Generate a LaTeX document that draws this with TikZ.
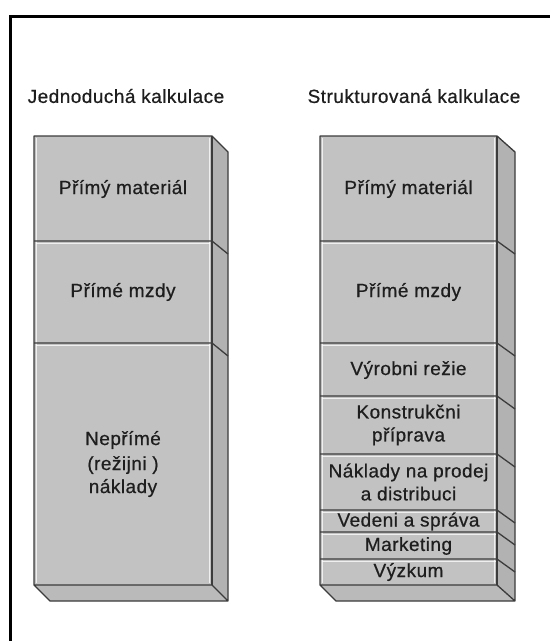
\documentclass[tikz,border=0pt]{standalone}
\usepackage{fontspec}
\setmainfont{Liberation Sans}
\newfontfamily\labelfont[LetterSpace=2.5,FakeBold=0.6]{Liberation Sans}
\definecolor{faceGray}{HTML}{C2C2C2}
\definecolor{sideGray}{HTML}{B2B2B2}
\definecolor{bottomGray}{HTML}{BABABA}
\definecolor{edgeGray}{HTML}{3C3C3C}
\definecolor{inkGray}{HTML}{1E1E1E}
\begin{document}
\begin{tikzpicture}[x=1pt,y=-1pt,
  edge/.style={draw=edgeGray, line width=1.3pt, line join=round},
  bevel/.style={draw=white, line width=1pt, opacity=0.75},
  lab/.style={font=\labelfont\fontsize{19}{23}\selectfont, align=center, text=inkGray, inner sep=0pt},
  title/.style={font=\labelfont\fontsize{19}{23}\selectfont, text=inkGray, inner sep=0pt}]
\useasboundingbox (0,0) rectangle (550,641);
\fill[white] (0,0) rectangle (550,641);
% open frame: top and left rules
\draw[line width=3pt] (10.5,641) -- (10.5,16) -- (550,16);

% column headings
\node[title] (tA) at (126,96) {Jednoduchá kalkulace};
\node[title] (tB) at (414,96) {Strukturovaná kalkulace};

% ---------- simple costing block ----------
\fill[sideGray] (212,136) -- (228,152) -- (228,601) -- (212,585) -- cycle;
\fill[bottomGray] (34,585) -- (212,585) -- (228,601) -- (50,601) -- cycle;
\fill[faceGray] (34,136) rectangle (212,585);
\draw[bevel] (36.5,138) -- (36.5,583);
\draw[bevel] (209.5,138) -- (209.5,583);
\foreach \y in {241,343} {
  \draw[bevel] (36,\y+2.5) -- (210,\y+2.5);
  \draw[edge] (34,\y) -- (212,\y) -- (228,\y+13);
}
\draw[edge] (34,585) -- (34,136) -- (212,136) -- (228,152) -- (228,601)
  -- (50,601) -- (34,585) -- (212,585) -- (228,601);
\draw[edge] (212,136) -- (212,585);

\node[lab] (a1) at (123,189) {Přímý materiál};
\node[lab] (a2) at (123,292) {Přímé mzdy};
\node[lab] (a3) at (123,464) {Nepřímé\\[2pt](režijni )\\náklady};

% ---------- structured costing block ----------
\fill[sideGray] (497,136) -- (515,152) -- (515,601) -- (497,585) -- cycle;
\fill[bottomGray] (320,585) -- (497,585) -- (515,601) -- (336,601) -- cycle;
\fill[faceGray] (320,136) rectangle (497,585);
\draw[bevel] (322.5,138) -- (322.5,583);
\draw[bevel] (494.5,138) -- (494.5,583);
\foreach \y in {241,343,396,454,510,532,559} {
  \draw[bevel] (322,\y+2.5) -- (496,\y+2.5);
  \draw[edge] (320,\y) -- (497,\y) -- (515,\y+13);
}
\draw[edge] (320,585) -- (320,136) -- (497,136) -- (515,152) -- (515,601)
  -- (336,601) -- (320,585) -- (497,585) -- (515,601);
\draw[edge] (497,136) -- (497,585);

\node[lab] (b1) at (408.5,189) {Přímý materiál};
\node[lab] (b2) at (408.5,292) {Přímé mzdy};
\node[lab] (b3) at (408.5,370) {Výrobni režie};
\node[lab] (b4) at (408.5,425) {Konstrukčni\\příprava};
\node[lab] (b5) at (408.5,482) {Náklady na prodej\\a distribuci};
\node[lab] (b6) at (408.5,521.5) {Vedeni a správa};
\node[lab] (b7) at (408.5,546) {Marketing};
\node[lab] (b8) at (408.5,572) {Výzkum};
\end{tikzpicture}
\end{document}
